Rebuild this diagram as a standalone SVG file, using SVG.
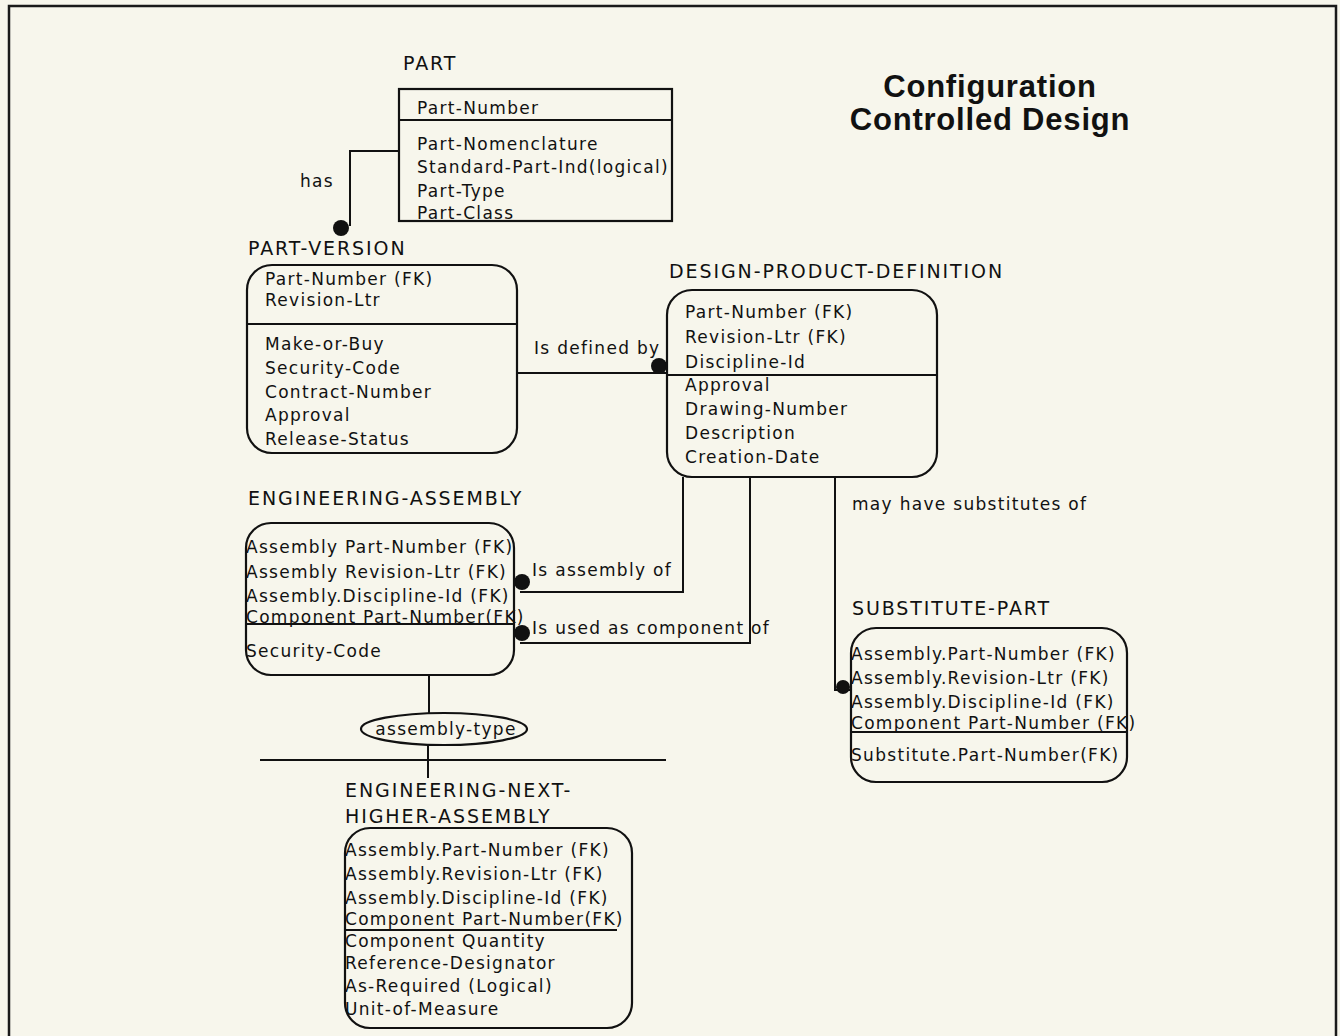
<svg xmlns="http://www.w3.org/2000/svg" width="1340" height="1036" viewBox="0 0 1340 1036">
<style>
.bg{fill:#f7f6ec}
.frame{fill:none;stroke:#1a1a1a;stroke-width:2.5}
.box{fill:none;stroke:#111;stroke-width:2.2}
.sep{stroke:#111;stroke-width:2}
.ln{fill:none;stroke:#111;stroke-width:2}
.dot{fill:#111}
.t{font-family:"DejaVu Sans",sans-serif;font-size:17px;letter-spacing:1.3px;fill:#111}
.h{font-family:"DejaVu Sans",sans-serif;font-size:19px;letter-spacing:1.9px;fill:#111}
.title{font-family:"Liberation Sans",Arial,sans-serif;font-size:31px;font-weight:bold;letter-spacing:0.8px;fill:#111}
</style>
<rect class="bg" x="0" y="0" width="1340" height="1036"/>
<path class="frame" d="M9,1036 V6 H1336 V1036"/>

<g id="title">
<text class="title" x="990" y="97" text-anchor="middle">Configuration</text>
<text class="title" x="990" y="130" text-anchor="middle">Controlled Design</text>
</g>

<g id="connectors">
<path class="ln" d="M399,151 H350 V226"/>
<circle class="dot" cx="341" cy="228" r="8"/>
<text class="t" x="300" y="187">has</text>

<path class="ln" d="M517,373 H668"/>
<circle class="dot" cx="659" cy="366" r="8"/>
<text class="t" x="534" y="354">Is defined by</text>

<path class="ln" d="M520,592 H683 V477"/>
<circle class="dot" cx="522" cy="582" r="8"/>
<text class="t" x="532" y="576">Is assembly  of</text>

<path class="ln" d="M520,643 H750 V477"/>
<circle class="dot" cx="522" cy="633" r="8"/>
<text class="t" x="532" y="634">Is used as component of</text>

<path class="ln" d="M835,477 V690 H852"/>
<circle class="dot" cx="843" cy="687" r="7"/>
<text class="t" x="852" y="510">may have substitutes of</text>

<path class="ln" d="M429,675 V713"/>
<path class="ln" d="M428,745 V778"/>
<path class="ln" d="M260,760 H666"/>
</g>

<g id="assembly-type">
<ellipse class="box" cx="444" cy="729" rx="83" ry="16"/>
<text class="t" x="446" y="735" text-anchor="middle">assembly-type</text>
</g>

<g id="part">
<text class="h" x="403" y="70">PART</text>
<rect class="box" x="399" y="89" width="273" height="132"/>
<line class="sep" x1="399" y1="120" x2="672" y2="120"/>
<text class="t" x="417" y="114">Part-Number</text>
<text class="t" x="417" y="150">Part-Nomenclature</text>
<text class="t" x="417" y="173">Standard-Part-Ind(logical)</text>
<text class="t" x="417" y="197">Part-Type</text>
<text class="t" x="417" y="219">Part-Class</text>
</g>

<g id="part-version">
<text class="h" x="248" y="255">PART-VERSION</text>
<rect class="box" x="247" y="265" width="270" height="188" rx="25"/>
<line class="sep" x1="247" y1="324" x2="517" y2="324"/>
<text class="t" x="265" y="285">Part-Number (FK)</text>
<text class="t" x="265" y="306">Revision-Ltr</text>
<text class="t" x="265" y="350">Make-or-Buy</text>
<text class="t" x="265" y="374">Security-Code</text>
<text class="t" x="265" y="398">Contract-Number</text>
<text class="t" x="265" y="421">Approval</text>
<text class="t" x="265" y="445">Release-Status</text>
</g>

<g id="design-product-definition">
<text class="h" x="669" y="278">DESIGN-PRODUCT-DEFINITION</text>
<rect class="box" x="667" y="290" width="270" height="187" rx="25"/>
<line class="sep" x1="667" y1="375" x2="937" y2="375"/>
<text class="t" x="685" y="318">Part-Number (FK)</text>
<text class="t" x="685" y="343">Revision-Ltr (FK)</text>
<text class="t" x="685" y="368">Discipline-Id</text>
<text class="t" x="685" y="391">Approval</text>
<text class="t" x="685" y="415">Drawing-Number</text>
<text class="t" x="685" y="439">Description</text>
<text class="t" x="685" y="463">Creation-Date</text>
</g>

<g id="engineering-assembly">
<text class="h" x="248" y="505">ENGINEERING-ASSEMBLY</text>
<rect class="box" x="246" y="523" width="268" height="152" rx="25"/>
<line class="sep" x1="246" y1="624" x2="514" y2="624"/>
<text class="t" x="246" y="553">Assembly Part-Number (FK)</text>
<text class="t" x="246" y="578">Assembly Revision-Ltr (FK)</text>
<text class="t" x="246" y="602">Assembly.Discipline-Id (FK)</text>
<text class="t" x="246" y="623">Component Part-Number(FK)</text>
<text class="t" x="246" y="657">Security-Code</text>
</g>

<g id="substitute-part">
<text class="h" x="852" y="615">SUBSTITUTE-PART</text>
<rect class="box" x="851" y="628" width="276" height="154" rx="25"/>
<line class="sep" x1="851" y1="732" x2="1127" y2="732"/>
<text class="t" x="851" y="660">Assembly.Part-Number (FK)</text>
<text class="t" x="851" y="684">Assembly.Revision-Ltr (FK)</text>
<text class="t" x="851" y="708">Assembly.Discipline-Id (FK)</text>
<text class="t" x="851" y="729">Component Part-Number (FK)</text>
<text class="t" x="851" y="761">Substitute.Part-Number(FK)</text>
</g>

<g id="engineering-next-higher-assembly">
<text class="h" x="345" y="797">ENGINEERING-NEXT-</text>
<text class="h" x="345" y="823">HIGHER-ASSEMBLY</text>
<rect class="box" x="345" y="828" width="287" height="200" rx="25"/>
<line class="sep" x1="345" y1="930" x2="617" y2="930"/>
<text class="t" x="345" y="856">Assembly.Part-Number (FK)</text>
<text class="t" x="345" y="880">Assembly.Revision-Ltr (FK)</text>
<text class="t" x="345" y="904">Assembly.Discipline-Id (FK)</text>
<text class="t" x="345" y="925">Component Part-Number(FK)</text>
<text class="t" x="345" y="947">Component Quantity</text>
<text class="t" x="345" y="969">Reference-Designator</text>
<text class="t" x="345" y="992">As-Required (Logical)</text>
<text class="t" x="345" y="1015">Unit-of-Measure</text>
</g>
</svg>
